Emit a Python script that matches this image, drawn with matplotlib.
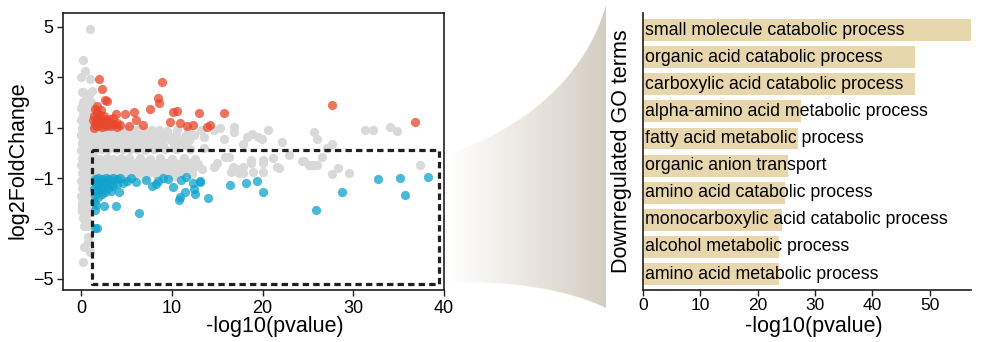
import numpy as np
import matplotlib
matplotlib.use("Agg")
import matplotlib.pyplot as plt
from matplotlib.path import Path
from matplotlib.patches import PathPatch
from matplotlib.colors import LinearSegmentedColormap

plt.rcParams['font.family'] = ['Liberation Sans', 'DejaVu Sans']

# ---- volcano data: (-log10 p, log2FC) ----

gray_stem = [(0.1, 2.4), (0.5, 2.2), (0.9, 2.3), (0.2, 2.0), (0.7, 1.9), (1.1, 2.0), (0.0, 1.8),
             (0.4, 1.7), (0.9, 1.6), (0.2, 1.5), (0.6, 1.4), (1.0, 1.3), (0.0, 1.3), (0.4, 1.2),
             (0.8, 1.1), (0.1, 1.0), (0.5, 0.9), (0.9, 0.85), (0.0, 0.7), (0.4, 0.6), (0.8, 0.5),
             (0.1, 0.4), (0.5, 0.3), (0.9, 0.2), (0.0, 0.1), (0.4, 0.0), (0.8, -0.1), (0.1, -0.2),
             (0.5, -0.3), (0.9, -0.35), (0.0, -0.5), (0.4, -0.6), (0.8, -0.7), (0.1, -0.8),
             (0.5, -0.9), (0.9, -1.0), (0.0, -1.1), (0.4, -1.2), (0.8, -1.3), (0.1, -1.4),
             (0.5, -1.5), (0.9, -1.55), (0.0, -1.7), (0.4, -1.8), (0.8, -1.9), (0.1, -2.0),
             (0.5, -2.1), (0.9, -2.2), (0.1, -2.3), (0.5, -2.45), (0.2, -2.6), (0.6, -2.75),
             (0.3, -2.9)]

gray_outliers = [(1.0, 4.91), (0.25, 3.69), (0.44, 3.25), (0.03, 3.03), (1.0, 2.92), (0.15, 2.41),
                 (1.25, 2.47), (0.08, 1.84), (1.1, 1.75), (0.25, -4.31), (0.37, -3.74), (0.81, -3.54),
                 (1.0, -3.92), (0.7, -2.92), (0.81, -3.32), (0.07, -2.13)]

gray_upper = [(1.5, 0.92), (2.2, 0.95), (2.9, 0.9), (3.6, 0.93), (4.3, 0.9), (5.0, 0.95), (5.7, 0.9),
              (6.4, 0.93), (7.1, 0.88), (7.8, 0.92), (8.6, 0.9), (9.5, 0.85), (10.6, 0.9), (11.8, 0.85),
              (13.2, 0.9), (14.7, 0.91), (15.3, 0.98), (16.9, 1.02),
              (1.3, 0.72), (1.9, 0.7), (2.5, 0.75), (3.1, 0.7), (3.7, 0.74), (4.3, 0.7), (4.9, 0.72),
              (5.5, 0.7), (6.1, 0.75), (6.7, 0.7), (7.3, 0.72), (8.0, 0.7), (8.8, 0.74), (9.7, 0.68),
              (10.5, 0.72), (11.4, 0.66), (12.4, 0.7), (13.5, 0.65), (16.8, 0.82), (18.3, 0.62),
              (18.8, 0.73), (19.5, 0.62), (20.6, 0.92),
              (1.5, 0.52), (2.1, 0.5), (2.7, 0.55), (3.3, 0.5), (3.9, 0.54), (4.5, 0.5), (5.1, 0.52),
              (5.7, 0.5), (6.3, 0.55), (6.9, 0.5), (7.5, 0.52), (8.2, 0.48), (9.0, 0.52), (9.9, 0.5),
              (10.8, 0.45), (11.9, 0.5), (15.7, 0.56), (19.9, 0.54), (22.1, 0.45),
              (1.3, 0.32), (1.9, 0.3), (2.5, 0.35), (3.1, 0.3), (3.7, 0.33), (4.3, 0.3), (4.9, 0.32),
              (5.5, 0.28), (6.1, 0.33), (6.7, 0.3), (7.4, 0.3), (8.1, 0.28), (9.0, 0.3), (10.2, 0.28),
              (11.5, 0.3), (17.8, 0.35),
              (1.6, 0.15), (2.3, 0.15), (3.0, 0.17), (3.8, 0.14), (4.6, 0.16), (5.4, 0.14), (6.2, 0.16),
              (7.0, 0.13), (8.0, 0.15), (9.2, 0.14), (10.5, 0.15), (12.0, 0.14), (13.5, 0.2)]

gray_lower = [(1.4, -0.2), (2.1, -0.25), (2.8, -0.2), (3.5, -0.25), (4.4, -0.2), (5.3, -0.22),
              (6.5, -0.2), (7.6, -0.25), (8.7, -0.2), (10.0, -0.25), (11.3, -0.2), (12.5, -0.25),
              (15.9, -0.15), (16.3, -0.15), (18.7, -0.28), (20.1, -0.28), (21.1, -0.19),
              (1.3, -0.4), (1.9, -0.42), (2.5, -0.38), (3.1, -0.42), (3.7, -0.4), (4.3, -0.42),
              (4.9, -0.38), (5.5, -0.42), (6.1, -0.4), (6.7, -0.42), (7.3, -0.38), (7.9, -0.42),
              (8.6, -0.4), (9.4, -0.42), (10.2, -0.38), (11.0, -0.42), (11.9, -0.4), (12.9, -0.44),
              (15.0, -0.41), (14.6, -0.54), (20.1, -0.41), (18.7, -0.41),
              (1.5, -0.6), (2.1, -0.58), (2.7, -0.62), (3.3, -0.58), (3.9, -0.6), (4.5, -0.62),
              (5.1, -0.58), (5.7, -0.6), (6.3, -0.62), (6.9, -0.58), (7.5, -0.6), (8.2, -0.62),
              (8.9, -0.58), (9.7, -0.62), (10.5, -0.6), (11.4, -0.65), (12.3, -0.6), (13.3, -0.62),
              (16.7, -0.54), (17.2, -0.65), (17.8, -0.54), (21.6, -0.54), (21.8, -0.58),
              (1.3, -0.8), (1.9, -0.82), (2.5, -0.78), (3.1, -0.82), (3.7, -0.8), (4.3, -0.82),
              (4.9, -0.78), (5.5, -0.82), (6.1, -0.8), (6.7, -0.84), (7.4, -0.8), (8.2, -0.84),
              (9.1, -0.8), (10.0, -0.84), (11.0, -0.8), (12.2, -0.85), (16.5, -0.74), (17.4, -0.81),
              (17.8, -0.81), (18.9, -0.74), (20.1, -0.74),
              (1.6, -0.95), (2.3, -0.93), (3.0, -0.95), (3.8, -0.92), (4.7, -0.95), (5.8, -0.92),
              (7.0, -0.95), (8.4, -0.93), (10.4, -0.92)]

gray_far = [(25.7, 0.81), (26.0, 0.56), (31.3, 0.92), (32.2, 0.92), (34.1, 1.04), (34.8, 0.87),
            (27.1, 0.19), (27.7, 0.34), (26.5, -0.15), (24.4, -0.34), (22.9, -0.09), (24.6, -0.32),
            (25.1, -0.48), (25.6, -0.47), (26.0, -0.48), (28.3, -0.61), (27.7, -0.83), (29.5, -0.81),
            (37.3, -0.48)]

up_pts = [(2.0, 2.94), (2.3, 2.54), (2.6, 2.08), (2.8, 2.06), (8.9, 2.82), (8.5, 2.17), (8.6, 1.97),
          (7.6, 1.76), (10.1, 1.63), (10.6, 1.68), (13.0, 1.59), (15.7, 1.59), (5.8, 1.63), (4.8, 1.55),
          (3.8, 1.56), (6.0, 1.31), (6.8, 1.12), (4.3, 1.1), (5.3, 1.06), (9.8, 1.23), (10.9, 1.2),
          (11.7, 1.06), (12.3, 1.1), (13.9, 1.04), (14.2, 1.12), (27.6, 1.89), (36.8, 1.22),
          (1.5, 1.75), (1.7, 1.62), (1.4, 1.45), (1.8, 1.4), (2.1, 1.5), (2.3, 1.3), (1.6, 1.25),
          (2.0, 1.2), (2.5, 1.15), (2.8, 1.25), (3.0, 1.1), (1.5, 1.1), (1.9, 1.05), (2.3, 1.02),
          (2.7, 1.05), (3.3, 1.05), (3.6, 1.15), (2.2, 1.7), (2.5, 1.45), (3.1, 1.35), (1.3, 1.3),
          (1.8, 1.85), (4.0, 1.2), (3.5, 1.4), (1.4, 1.0), (2.6, 1.3), (2.0, 1.35), (3.9, 1.02)]

down_pts = [(32.7, -1.04), (35.1, -0.98), (38.2, -0.96), (35.7, -1.68), (28.8, -1.57), (25.9, -2.28),
            (20.0, -1.55), (19.4, -1.1), (18.2, -1.2), (16.4, -1.26), (14.0, -1.77), (6.4, -2.37),
            (3.8, -2.12), (2.5, -2.1), (1.7, -2.99), (1.5, -2.99), (1.5, -2.26), (13.1, -1.14),
            (12.4, -1.43), (12.5, -1.64), (11.4, -1.55), (10.8, -1.87), (10.9, -1.75), (10.1, -1.35),
            (11.0, -1.08), (7.8, -1.3), (8.2, -1.25), (7.1, -1.08), (6.0, -1.14), (4.2, -1.54),
            (3.5, -1.31), (12.3, -1.2), (11.6, -0.96), (13.1, -1.11), (9.0, -1.0), (9.6, -1.05),
            (8.5, -1.1), (5.0, -1.1), (5.5, -1.0), (4.6, -1.2),
            (1.5, -1.05), (1.9, -1.0), (2.3, -1.05), (2.7, -1.0), (3.1, -1.05), (3.5, -1.0),
            (3.9, -1.05), (4.3, -0.98), (1.6, -1.25), (2.0, -1.2), (2.4, -1.3), (2.8, -1.2),
            (3.2, -1.25), (1.4, -1.45), (1.8, -1.5), (2.2, -1.45), (2.6, -1.55), (3.0, -1.4),
            (1.5, -1.7), (1.9, -1.75), (2.3, -1.65), (1.4, -1.95), (1.6, -2.05), (2.0, -1.35),
            (2.6, -1.15), (3.3, -1.5), (4.0, -1.25)]

# dashed selection box (x0, x1, y0, y1)
box = (1.2, 39.5, -5.22, 0.12)

# ---- GO enrichment ----
go_terms = ["small molecule catabolic process",
            "organic acid catabolic process",
            "carboxylic acid catabolic process",
            "alpha-amino acid metabolic process",
            "fatty acid metabolic process",
            "organic anion transport",
            "amino acid catabolic process",
            "monocarboxylic acid catabolic process",
            "alcohol metabolic process",
            "amino acid metabolic process"]
go_pval = [57.2, 47.4, 47.4, 27.6, 27.1, 25.3, 24.8, 24.2, 23.8, 23.7]

fig = plt.figure(figsize=(10, 3.42), dpi=100)

# background funnel connector (figure pixel coords)
bg = fig.add_axes([0, 0, 1, 1], zorder=0)
bg.set_xlim(0, 1000)
bg.set_ylim(342, 0)
bg.axis("off")
verts = [(450, 153), (520, 130), (585, 80), (606, 5), (606, 308),
         (570, 290), (510, 280), (450, 283), (450, 153)]
codes = [Path.MOVETO, Path.CURVE4, Path.CURVE4, Path.CURVE4, Path.LINETO,
         Path.CURVE4, Path.CURVE4, Path.CURVE4, Path.CLOSEPOLY]
funnel = PathPatch(Path(verts, codes), facecolor="none", edgecolor="none")
bg.add_patch(funnel)
cmap = LinearSegmentedColormap.from_list("fun", ["#ffffff", "#d4cec2"])
grad = np.linspace(0, 1, 256).reshape(1, -1)
im = bg.imshow(grad, cmap=cmap, extent=[450, 606, 310, 0], aspect="auto")
im.set_clip_path(funnel)

# ---- left: volcano ----
ax = fig.add_axes([0.063, 0.152, 0.381, 0.81], zorder=1)
ax.patch.set_alpha(0)
gray = gray_stem + gray_outliers + gray_upper + gray_lower + gray_far
gx, gy = zip(*gray)
ax.scatter(gx, gy, s=44, color="#d9d9d9", alpha=1.0, linewidths=0, zorder=2)
ux, uy = zip(*up_pts)
ax.scatter(ux, uy, s=44, color="#e8472b", alpha=0.75, linewidths=0, zorder=3)
dx, dy = zip(*down_pts)
ax.scatter(dx, dy, s=44, color="#0fa3cc", alpha=0.75, linewidths=0, zorder=3)

x0, x1, y0, y1 = box
ax.plot([x0, x1, x1, x0, x0], [y1, y1, y0, y0, y1], color="#231f20", lw=2.3,
        dashes=(2.0, 1.3), zorder=4, solid_capstyle="butt")

ax.set_xlim(-2, 40)
ax.set_ylim(-5.44, 5.55)
ax.set_xticks([0, 10, 20, 30, 40])
ax.set_yticks([5, 3, 1, -1, -3, -5])
ax.tick_params(labelsize=13, length=4, width=1, color="#231f20", pad=3)
for s in ax.spines.values():
    s.set_linewidth(1.2)
    s.set_color("#231f20")
ax.set_xlabel("-log10(pvalue)", fontsize=15.5)
ax.xaxis.set_label_coords(0.556, -0.095)
ax.set_ylabel("log2FoldChange", fontsize=15.5)
ax.yaxis.set_label_coords(-0.09, 0.47)

# ---- right: GO bars ----
ax2 = fig.add_axes([0.643, 0.152, 0.328, 0.81], zorder=1)
ax2.patch.set_alpha(0)
ypos = np.arange(len(go_terms))
ax2.barh(ypos, go_pval, height=0.81, color="#e8d6ad", zorder=2)
for yi, term in zip(ypos, go_terms):
    ax2.text(0.4, yi, term, va="center", ha="left", fontsize=12.8, color="black", zorder=3)
ax2.set_ylim(9.59, -0.63)
ax2.set_xlim(0, 57.2)
ax2.set_yticks([])
ax2.set_xticks([0, 10, 20, 30, 40, 50])
ax2.tick_params(labelsize=12.5, length=4, width=1, color="#231f20", pad=2)
ax2.spines["top"].set_visible(False)
ax2.spines["right"].set_visible(False)
for k in ["left", "bottom"]:
    ax2.spines[k].set_linewidth(1.2)
    ax2.spines[k].set_color("#231f20")
ax2.set_xlabel("-log10(pvalue)", fontsize=15.5)
ax2.xaxis.set_label_coords(0.52, -0.095)
ax2.set_ylabel("Downregulated GO terms", fontsize=15.5)
ax2.yaxis.set_label_coords(-0.035, 0.5)

fig.savefig("out.png", dpi=100)
